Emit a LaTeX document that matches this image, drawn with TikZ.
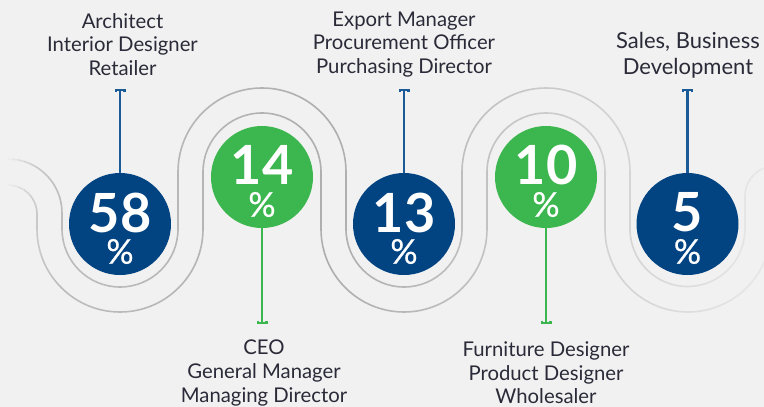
\documentclass[tikz,border=0pt]{standalone}
\usepackage{fontspec}
\setmainfont{Lato}
\newfontfamily\pctfont[FakeBold=0.7]{Lato}
\usetikzlibrary{arrows.meta}
\definecolor{bgc}{HTML}{F1F1F1}
\definecolor{bluec}{HTML}{024482}
\definecolor{stemb}{HTML}{1A5A96}
\definecolor{greenc}{HTML}{3CB64E}
\definecolor{txtc}{HTML}{2A2A38}
\colorlet{wavec}{black!28!bgc}
\tikzset{
  disc/.style={circle,minimum size=102pt,inner sep=0pt,fill=#1},
  lab/.style={align=center,text=txtc,font=\fontsize{20.3}{23.6}\selectfont},
  labbig/.style={align=center,text=txtc,font=\fontsize{22}{26}\selectfont},
  big/.style={text=white,font=\fontsize{54}{54}\selectfont\bfseries,inner sep=0pt},
  pct/.style={text=white,font=\pctfont\fontsize{34}{34}\selectfont,inner sep=0pt},
  stem/.style={line width=2.2pt,-{Bar[width=11pt,length=2.6pt]}},
  wave/.style={line width=1.6pt}
}
\newcommand{\waveA}{(8,159) arc[start angle=-90,end angle=0,radius=54] -- (62,229)
  arc[start angle=180,end angle=0,radius=58] -- (178,172)
  arc[start angle=180,end angle=360,radius=84] -- (346,229)
  arc[start angle=180,end angle=0,radius=58] -- (462,172)
  arc[start angle=180,end angle=360,radius=84] -- (630,229)
  arc[start angle=180,end angle=0,radius=57.5] -- (745,196)
  arc[start angle=180,end angle=270,radius=30]}
\newcommand{\waveB}{(8,185) arc[start angle=-90,end angle=0,radius=29] -- (37,229)
  arc[start angle=180,end angle=0,radius=83] -- (203,172)
  arc[start angle=180,end angle=360,radius=59] -- (321,229)
  arc[start angle=180,end angle=0,radius=83] -- (487,172)
  arc[start angle=180,end angle=360,radius=59] -- (605,229)
  arc[start angle=180,end angle=0,radius=83]}
\begin{document}
\begin{tikzpicture}[x=1pt,y=-1pt]
\useasboundingbox (0,0) rectangle (764,407);
\fill[bgc] (0,0) rectangle (764,407);
% fading wave lines, one colour per vertical strip
\foreach \s/\m in {0/0,6/8,12/18,18/30,24/42,30/52,36/60,42/66,48/70,54/74,60/78}{
  \begin{scope}
    \clip (\s,0) rectangle (\s+6.2,407);
    \draw[wave,draw=wavec!\m!bgc] \waveA;
    \draw[wave,draw=wavec!\m!bgc] \waveB;
  \end{scope}
}
\foreach \s in {66,72,...,762}{
  \pgfmathtruncatemacro{\mixv}{\s<330 ? 78+(\s-66)/264*22 : 100-(\s-330)/434*85}
  \begin{scope}
    \clip (\s,0) rectangle (\s+6.2,407);
    \draw[wave,draw=wavec!\mixv!bgc] \waveA;
    \draw[wave,draw=wavec!\mixv!bgc] \waveB;
  \end{scope}
}
\node[disc=bluec] (a) at (120,224) {};
\node[disc=greenc] (b) at (262,177) {};
\node[disc=bluec] (c) at (404,224) {};
\node[disc=greenc] (d) at (546,177) {};
\node[disc=bluec] (e) at (687.5,224) {};
\node[big] (an) at (120,212.5) {58};
\node[pct] (ap) at (120,251.5) {\%};
\node[big] (bn) at (262,165) {14};
\node[pct] (bp) at (262,204.5) {\%};
\node[big] (cn) at (404,212.5) {13};
\node[pct] (cp) at (404,251.5) {\%};
\node[big] (dn) at (546,165) {10};
\node[pct] (dp) at (546,204.5) {\%};
\node[big] (en) at (687.5,212.5) {5};
\node[pct] (ep) at (687.5,251.5) {\%};
\coordinate (at) at (120,89);
\coordinate (bt) at (262,324);
\coordinate (ct) at (404,89);
\coordinate (dt) at (546,324);
\coordinate (et) at (687.5,89);
\draw[stem,stemb] (a.north) -- (at);
\draw[stem,greenc] (b.south) -- (bt);
\draw[stem,stemb] (c.north) -- (ct);
\draw[stem,greenc] (d.south) -- (dt);
\draw[stem,stemb] (e.north) -- (et);
\node[lab] (al) at (122.5,44.5) {Architect\\Interior Designer\\Retailer};
\node[lab] (bl) at (264,373) {CEO\\General Manager\\Managing Director};
\node[lab] (cl) at (404,44.5) {Export Manager\\Procurement Officer\\Purchasing Director};
\node[lab] (dl) at (546,373) {Furniture Designer\\Product Designer\\Wholesaler};
\node[labbig] (el) at (688,55) {Sales, Business\\Development};
\end{tikzpicture}
\end{document}
